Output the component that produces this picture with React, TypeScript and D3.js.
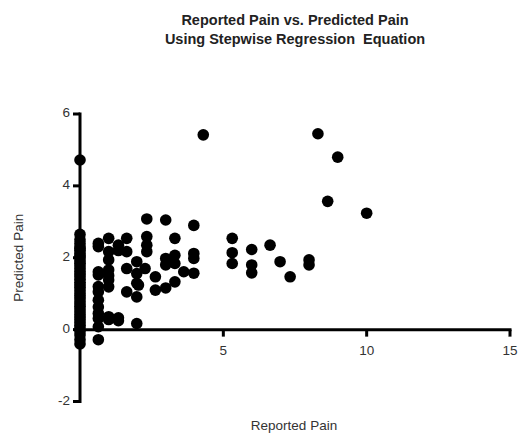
import React from 'react';
import * as d3 from 'd3';

// reported pain (x) and predicted pain (y)
const reportedPain = [
  0, 0, 0, 0, 0, 0, 0, 0, 0, 0, 0, 0, 0, 0, 0, 0, 0, 0, 0, 0,
  0, 0, 0, 0, 0, 0, 0, 0, 0, 0, 0, 0, 0, 0, 0, 0, 0, 0, 0, 0,
  0.64, 0.64, 0.64, 0.64, 0.64, 0.64, 0.64, 0.64, 0.64, 0.64, 0.64, 0.64,
  1.0, 1.0, 1.0, 1.0, 1.0, 1.0, 1.0, 1.0, 1.0,
  1.34, 1.34, 1.34, 1.34,
  1.63, 1.63, 1.63, 1.63,
  1.98, 1.98, 1.98, 1.98, 1.98, 2.04,
  2.27, 2.33, 2.33, 2.33, 2.33,
  2.63, 2.63,
  2.99, 2.99, 2.99, 2.99,
  3.31, 3.31, 3.31, 3.31,
  3.62,
  3.97, 3.97, 3.97, 3.97,
  4.3,
  5.31, 5.31, 5.31,
  5.99, 5.99, 5.99,
  6.63, 6.98, 7.33,
  7.99, 7.99,
  8.3, 8.64, 8.99, 10.0,
];

const predictedPain = [
  4.72, 2.65, 2.5, 2.4, 2.3, 2.25, 2.2, 2.12, 2.05, 2.0, 1.92, 1.85, 1.78, 1.7, 1.62, 1.55, 1.48, 1.4, 1.32, 1.25,
  1.18, 1.1, 1.02, 0.95, 0.88, 0.8, 0.72, 0.65, 0.58, 0.5, 0.42, 0.35, 0.28, 0.2, 0.12, 0.05, -0.05, -0.15, -0.28, -0.4,
  2.4, 2.31, 1.61, 1.52, 1.2, 1.05, 0.82, 0.63, 0.45, 0.31, 0.08, -0.28,
  2.54, 2.17, 1.94, 1.66, 1.5, 1.38, 1.19, 0.36, 0.28,
  2.35, 2.2, 0.33, 0.25,
  2.54, 2.17, 1.7, 1.05,
  1.89, 1.56, 1.29, 0.91, 0.17, 1.24,
  1.7, 3.08, 2.59, 2.35, 2.17,
  1.47, 1.1,
  3.05, 1.98, 1.8, 1.16,
  2.54, 2.07, 1.84, 1.33,
  1.61,
  2.9, 2.12, 1.98, 1.57,
  5.42,
  2.54, 2.14, 1.84,
  2.23, 1.8, 1.58,
  2.35, 1.89, 1.47,
  1.94, 1.8,
  5.45, 3.57, 4.8, 3.24,
];

const xTicks = [5, 10, 15];
const yTicks = [-2, 0, 2, 4, 6];

const width = 519;
const height = 433;
const font = 'Liberation Sans, Arial, sans-serif';

export default function App() {
  const x = d3.scaleLinear().domain([0, 15]).range([80, 510]);
  const y = d3.scaleLinear().domain([-2, 6]).range([401.5, 114]);

  const points = reportedPain.map((r, i) => ({ r, p: predictedPain[i] }));

  return (
    <svg
      width={width}
      height={height}
      style={{ position: 'absolute', left: 0, top: 0, background: '#fff' }}
      fontFamily={font}
    >
      <text x={295} y={25} textAnchor="middle" fontSize={14.5} fontWeight="bold" fill="#222">
        Reported Pain vs. Predicted Pain
      </text>
      <text x={295} y={44} textAnchor="middle" fontSize={14.5} fontWeight="bold" fill="#222" style={{ whiteSpace: 'pre' }}>
        {'Using Stepwise Regression  Equation'}
      </text>

      {/* x axis at y = 0 */}
      <line x1={x(0) - 1.5} x2={x(15) + 1.5} y1={y(0)} y2={y(0)} stroke="#000" strokeWidth={3} />
      {xTicks.map(t => (
        <g key={'xt' + t}>
          <line x1={x(t)} x2={x(t)} y1={y(0)} y2={y(0) + 7} stroke="#000" strokeWidth={3} />
          <text x={x(t)} y={y(0) + 25} textAnchor="middle" fontSize={13.5} fill="#333">{t}</text>
        </g>
      ))}

      {/* y axis at x = 0 */}
      <line x1={x(0)} x2={x(0)} y1={y(6) - 1.5} y2={y(-2) + 1.5} stroke="#000" strokeWidth={3} />
      {yTicks.map(t => (
        <g key={'yt' + t}>
          <line x1={x(0) - 7} x2={x(0)} y1={y(t)} y2={y(t)} stroke="#000" strokeWidth={3} />
          <text x={x(0) - 10} y={y(t) + 3} textAnchor="end" fontSize={13.5} fill="#333">{t}</text>
        </g>
      ))}

      <text
        transform={`translate(23,${(y(6) + y(-2)) / 2}) rotate(-90)`}
        textAnchor="middle"
        fontSize={13.5}
        fill="#333"
      >
        Predicted Pain
      </text>
      <text x={294} y={430} textAnchor="middle" fontSize={13.5} fill="#333">Reported Pain</text>

      {points.map((d, i) => (
        <circle key={i} cx={x(d.r)} cy={y(d.p)} r={5.8} fill="#000" />
      ))}
    </svg>
  );
}
